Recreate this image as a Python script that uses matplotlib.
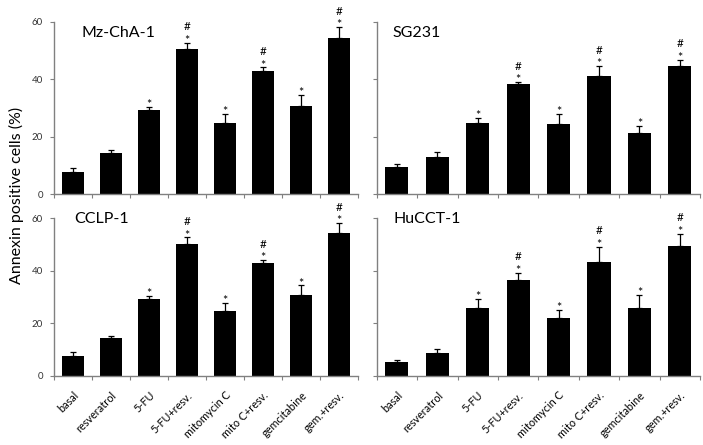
import matplotlib
matplotlib.use("Agg")
import matplotlib.pyplot as plt
import numpy as np

plt.rcParams['font.family'] = ['Lato', 'DejaVu Sans']

categories = ["basal", "resveratrol", "5-FU", "5-FU+resv.", "mitomycin C",
              "mito C+resv.", "gemcitabine", "gem.+resv."]

mz_vals = [7.6, 14.5, 29.3, 50.4, 24.7, 42.9, 30.7, 54.4]
mz_err = [1.4, 0.8, 1.2, 2.3, 3.1, 1.2, 3.7, 3.7]

sg_vals = [9.5, 13.1, 24.7, 38.2, 24.4, 41.0, 21.2, 44.5]
sg_err = [1.0, 1.5, 1.8, 0.8, 3.4, 3.5, 2.4, 2.2]

cclp_vals = [7.6, 14.5, 29.3, 50.4, 24.7, 42.9, 30.7, 54.4]
cclp_err = [1.4, 0.8, 1.2, 2.3, 3.1, 1.2, 3.7, 3.7]

hu_vals = [5.1, 8.7, 25.7, 36.4, 22.1, 43.4, 25.8, 49.6]
hu_err = [1.0, 1.5, 3.6, 2.9, 3.0, 5.7, 4.9, 4.5]

stars = ["", "", "*", "*", "*", "*", "*", "*"]
hashes = ["", "", "", "#", "", "#", "", "#"]

panels = [
    ("Mz-ChA-1", mz_vals, mz_err, [0.0768, 0.5634, 0.4325, 0.3878], True, False, (0.089, 0.934)),
    ("SG231", sg_vals, sg_err, [0.5358, 0.5634, 0.4600, 0.3878], False, False, (0.048, 0.934)),
    ("CCLP-1", cclp_vals, cclp_err, [0.0768, 0.1557, 0.4325, 0.3537], True, True, (0.066, 0.996)),
    ("HuCCT-1", hu_vals, hu_err, [0.5358, 0.1557, 0.4600, 0.3537], False, True, (0.051, 0.996)),
]

fig = plt.figure(figsize=(7.03, 4.45), dpi=100)
x = np.arange(len(categories))
spine_col = "#808080"

for title, vals, errs, rect, ylabels, xlabels, tpos in panels:
    ax = fig.add_axes(rect)
    ax.bar(x, vals, width=0.57, color="black", zorder=2)
    ax.errorbar(x, vals, yerr=[np.zeros(len(vals)), errs], fmt="none",
                ecolor="black", elinewidth=0.9, capsize=2, capthick=0.9, zorder=3)
    ax.set_xlim(-0.5, len(categories) - 0.5)
    ax.set_ylim(0, 60)
    for s in ["top", "right"]:
        ax.spines[s].set_visible(False)
    for s in ["left", "bottom"]:
        ax.spines[s].set_color(spine_col)
        ax.spines[s].set_linewidth(1.0)
    ax.set_yticks([0, 20, 40, 60])
    ax.tick_params(axis="y", direction="out", length=3, width=0.8, color=spine_col,
                   labelsize=7, labelcolor="#333333", pad=5)
    if not ylabels:
        ax.set_yticklabels([])
    ax.set_xticks(np.arange(-0.5, len(categories)), minor=False)
    ax.set_xticklabels([])
    ax.tick_params(axis="x", which="major", direction="out", length=3, width=0.8, color=spine_col)
    ax.set_xticks(x, minor=True)
    if xlabels:
        ax.set_xticklabels(categories, minor=True, rotation=45, ha="right", va="top",
                           rotation_mode="anchor", fontsize=7.8)
    ax.tick_params(axis="x", which="minor", length=0, pad=10)
    for i, (v, e) in enumerate(zip(vals, errs)):
        top = v + e
        if stars[i]:
            ax.annotate(stars[i], (i, top), xytext=(0, -1.5), textcoords="offset points",
                        ha="center", va="baseline", fontsize=9)
        if hashes[i]:
            ax.annotate(hashes[i], (i, top), xytext=(0, 9), textcoords="offset points",
                        ha="center", va="baseline", fontsize=8.5)
    ax.text(tpos[0], tpos[1], title, transform=ax.transAxes, ha="left", va="center",
            fontsize=11.5)

fig.text(0.023, 0.56, "Annexin positive cells (%)", rotation=90, ha="center",
         va="center", fontsize=11.5)

fig.savefig("out.png", dpi=100)
